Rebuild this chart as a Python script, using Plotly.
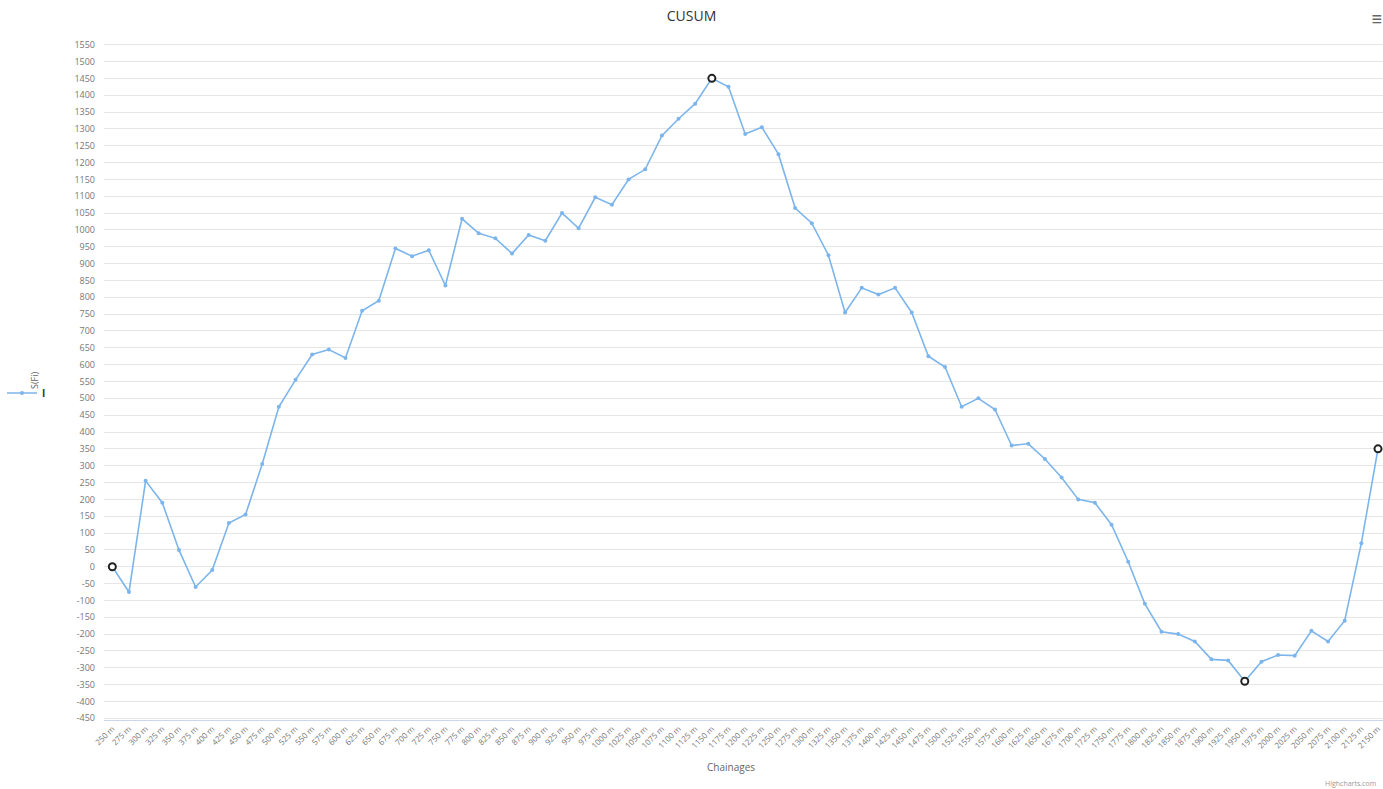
import plotly.graph_objects as go

chainages = [f"{c} m" for c in range(250, 2151, 25)]
cusum = [0, -75, 255, 190, 50, -60, -10, 130, 155, 305,
         475, 555, 630, 645, 620, 760, 790, 945, 922, 940,
         835, 1033, 990, 975, 930, 985, 968, 1050, 1005, 1097,
         1075, 1150, 1180, 1280, 1330, 1375, 1450, 1425, 1285, 1305,
         1225, 1065, 1020, 925, 755, 828, 808, 828, 755, 625,
         593, 475, 500, 467, 360, 365, 320, 265, 200, 190,
         125, 15, -110, -193, -200, -222, -275, -278, -340, -282,
         -262, -264, -190, -222, -160, 70, 350]
series_name = "<b>I</b>"
y_ticks = list(range(-450, 1551, 50))

# highlighted points: first, max, min, last
imax = max(range(len(cusum)), key=lambda i: cusum[i])
imin = min(range(len(cusum)), key=lambda i: cusum[i])
hl = [0, imax, imin, len(cusum) - 1]

L, T, B, R = 104, 43, 69, 0
W, H = 1383, 789
pw = W - L - R
ph = H - T - B

fig = go.Figure()
fig.add_trace(go.Scatter(
    x=chainages, y=cusum, mode="lines+markers", name=series_name,
    line=dict(color="#7cb5ec", width=1.6),
    marker=dict(color="#7cb5ec", size=4),
))
fig.add_trace(go.Scatter(
    x=[chainages[i] for i in hl], y=[cusum[i] for i in hl], mode="markers",
    showlegend=False, hoverinfo="skip",
    marker=dict(color="white", size=7, line=dict(color="#222222", width=2)),
))

fig.update_layout(
    width=W, height=H,
    margin=dict(l=L, r=R, t=T, b=B),
    paper_bgcolor="white", plot_bgcolor="white",
    font=dict(family="Open Sans, Lato, sans-serif", color="#666666", size=9),
    title=dict(text="CUSUM", x=0.5, xanchor="center", xref="container",
               y=1 - 16 / H, yanchor="middle", yref="container",
               font=dict(size=14, color="#333333")),
    showlegend=True,
    legend=dict(x=(2 - L) / pw, xanchor="left", y=(H - B - 393) / ph, yanchor="middle",
                font=dict(size=10, color="#333333"), bgcolor="rgba(0,0,0,0)",
                itemwidth=30),
    xaxis=dict(type="category", range=[-0.5, len(chainages) - 0.7],
               tickangle=-45, tickfont=dict(size=8, color="#777777"),
               showgrid=False, showline=True, linecolor="#ccd6eb", linewidth=1,
               ticks="", automargin=False, fixedrange=True),
    yaxis=dict(range=[-455, 1555], tickvals=y_ticks,
               ticktext=[str(v) for v in y_ticks],
               tickfont=dict(size=9, color="#777777"),
               ticklabelstandoff=8,
               showgrid=True, gridcolor="#e6e6e6", gridwidth=1,
               zeroline=False, showline=False, ticks="", automargin=False,
               fixedrange=True),
    annotations=[
        dict(text="S(Fi)", xref="paper", yref="paper", x=(35 - L) / pw,
             y=(H - B - 380) / ph, textangle=-90, showarrow=False,
             font=dict(size=9, color="#666666"), xanchor="center", yanchor="middle"),
        dict(text="Chainages", xref="paper", yref="paper", x=(731 - L) / pw,
             y=(H - B - 767) / ph, showarrow=False,
             font=dict(size=10, color="#666666"), xanchor="center", yanchor="middle"),
        dict(text="≡", xref="paper", yref="paper", x=(1377 - L) / pw,
             y=(H - B - 18) / ph, showarrow=False,
             font=dict(size=20, color="#666666"), xanchor="center", yanchor="middle"),
        dict(text="Highcharts.com", xref="paper", yref="paper", x=(1378 - L) / pw,
             y=(H - B - 783) / ph, showarrow=False,
             font=dict(size=7, color="#999999"), xanchor="right", yanchor="middle"),
    ],
)

fig.write_html("out.html", config={"displayModeBar": False})
